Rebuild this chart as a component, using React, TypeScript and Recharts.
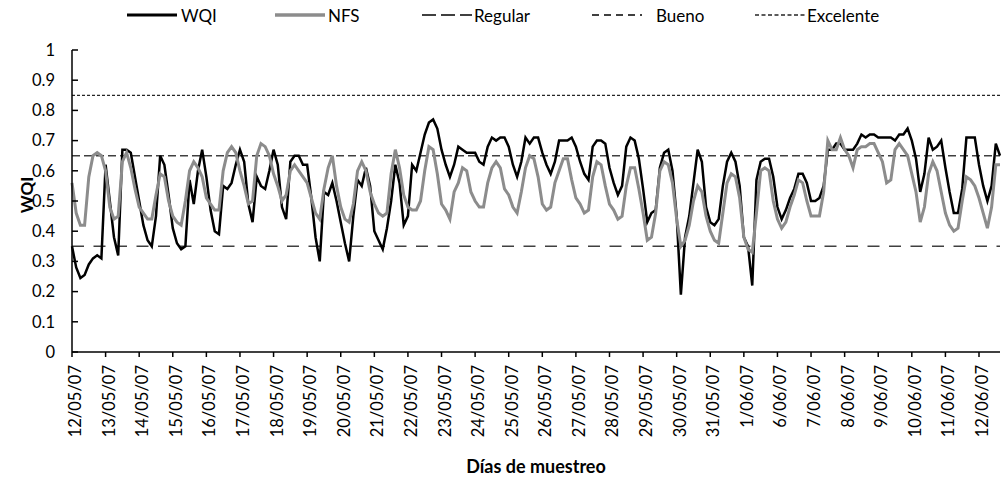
import { LineChart, Line, XAxis, YAxis, ReferenceLine, Label } from 'recharts';

const dayLabels = [
  '12/05/07', '13/05/07', '14/05/07', '15/05/07', '16/05/07', '17/05/07', '18/05/07',
  '19/05/07', '20/05/07', '21/05/07', '22/05/07', '23/05/07', '24/05/07', '25/05/07',
  '26/05/07', '27/05/07', '28/05/07', '29/05/07', '30/05/07', '31/05/07', '1/06/07',
  '6/06/07', '7/06/07', '8/06/07', '9/06/07', '10/06/07', '11/06/07', '12/06/07',
];

// readings every 3 h, one row per sampling day
const wqi = [
  0.35, 0.28, 0.245, 0.255, 0.29, 0.31, 0.32, 0.31,
  0.62, 0.5, 0.38, 0.32, 0.67, 0.67, 0.66, 0.58,
  0.5, 0.42, 0.37, 0.35, 0.45, 0.65, 0.62, 0.52,
  0.41, 0.36, 0.34, 0.35, 0.57, 0.49, 0.6, 0.67,
  0.58, 0.47, 0.4, 0.39, 0.55, 0.54, 0.56, 0.62,
  0.67, 0.63, 0.49, 0.43, 0.58, 0.55, 0.54, 0.6,
  0.67, 0.62, 0.48, 0.44, 0.63, 0.65, 0.65, 0.62,
  0.62, 0.51, 0.38, 0.3, 0.53, 0.52, 0.56, 0.5,
  0.43, 0.36, 0.3, 0.45, 0.57, 0.55, 0.61, 0.55,
  0.4, 0.37, 0.34, 0.41, 0.5, 0.62, 0.56, 0.42,
  0.45, 0.62, 0.6, 0.66, 0.72, 0.76, 0.77, 0.74,
  0.67, 0.62, 0.58, 0.62, 0.68, 0.67, 0.66, 0.66,
  0.66, 0.63, 0.62, 0.68, 0.71, 0.7, 0.71, 0.71,
  0.68, 0.62, 0.58, 0.63, 0.71, 0.69, 0.71, 0.71,
  0.66, 0.62, 0.59, 0.63, 0.7, 0.7, 0.7, 0.71,
  0.68, 0.63, 0.59, 0.57, 0.68, 0.7, 0.7, 0.69,
  0.61, 0.56, 0.52, 0.55, 0.68, 0.71, 0.7, 0.64,
  0.54, 0.43, 0.46, 0.47, 0.61, 0.66, 0.67, 0.6,
  0.45, 0.19, 0.38, 0.45, 0.56, 0.67, 0.63, 0.48,
  0.43, 0.42, 0.44, 0.55, 0.63, 0.66, 0.63, 0.55,
  0.38, 0.35, 0.22, 0.57, 0.63, 0.64, 0.64, 0.58,
  0.48, 0.44, 0.47, 0.51, 0.54, 0.59, 0.59, 0.56,
  0.5, 0.5, 0.51, 0.55, 0.67, 0.67, 0.69, 0.69,
  0.67, 0.67, 0.67, 0.69, 0.72, 0.71, 0.72, 0.72,
  0.71, 0.71, 0.71, 0.71, 0.7, 0.72, 0.72, 0.74,
  0.7, 0.64, 0.53, 0.59, 0.71, 0.67, 0.68, 0.7,
  0.61, 0.53, 0.46, 0.46, 0.54, 0.71, 0.71, 0.71,
  0.62, 0.55, 0.5, 0.55, 0.69, 0.65,
];

const nfs = [
  0.56, 0.46, 0.42, 0.42, 0.58, 0.65, 0.66, 0.65,
  0.6, 0.48, 0.44, 0.45, 0.63, 0.66, 0.61, 0.54,
  0.48, 0.46, 0.44, 0.44, 0.52, 0.59, 0.58, 0.5,
  0.45, 0.43, 0.42, 0.5, 0.6, 0.63, 0.61, 0.58,
  0.51, 0.49, 0.47, 0.47, 0.6, 0.66, 0.68, 0.66,
  0.6, 0.55, 0.49, 0.5, 0.65, 0.69, 0.68, 0.65,
  0.59, 0.55, 0.5, 0.52, 0.6, 0.62, 0.6, 0.58,
  0.56, 0.51, 0.46, 0.44, 0.54, 0.61, 0.65, 0.55,
  0.48, 0.44, 0.43, 0.49, 0.6, 0.63, 0.6, 0.53,
  0.49, 0.46, 0.45, 0.46, 0.59, 0.67, 0.61, 0.52,
  0.48, 0.47, 0.47, 0.5, 0.6, 0.68, 0.67, 0.59,
  0.49, 0.47, 0.44, 0.53, 0.56, 0.61, 0.6, 0.53,
  0.5, 0.48, 0.48, 0.56, 0.61, 0.63, 0.61, 0.54,
  0.52, 0.48, 0.46, 0.53, 0.61, 0.65, 0.64, 0.58,
  0.49, 0.47, 0.48, 0.56, 0.6, 0.64, 0.64, 0.57,
  0.51, 0.49, 0.46, 0.47, 0.58, 0.63, 0.62, 0.55,
  0.49, 0.47, 0.44, 0.45, 0.55, 0.61, 0.61, 0.54,
  0.46, 0.37, 0.38, 0.46, 0.6, 0.63, 0.62, 0.56,
  0.44, 0.35, 0.37, 0.42, 0.5, 0.55, 0.53, 0.45,
  0.4, 0.37, 0.36, 0.46, 0.56, 0.59, 0.58, 0.51,
  0.38, 0.34, 0.33, 0.46, 0.6, 0.61, 0.6, 0.5,
  0.44, 0.41, 0.43, 0.48, 0.52, 0.57, 0.56, 0.5,
  0.45, 0.45, 0.45, 0.53, 0.7, 0.67, 0.67, 0.71,
  0.67, 0.65, 0.61, 0.67, 0.68, 0.68, 0.69, 0.69,
  0.66, 0.63, 0.56, 0.57, 0.67, 0.69, 0.67, 0.65,
  0.59, 0.53, 0.43, 0.48, 0.59, 0.63, 0.6, 0.53,
  0.46, 0.42, 0.4, 0.41, 0.5, 0.58, 0.57, 0.55,
  0.51, 0.46, 0.41, 0.48, 0.62, 0.62,
];

const seriesNames = ['WQI', 'NFS'];
const thresholdNames = ['Regular', 'Bueno', 'Excelente'];
const thresholdValues = [0.35, 0.65, 0.85];
const yTicks = [0, 0.1, 0.2, 0.3, 0.4, 0.5, 0.6, 0.7, 0.8, 0.9, 1];

const PER_DAY = 8;
const FONT = 'Lato, "Noto Sans", sans-serif';

const rows = wqi.map((v, i) => ({ i, wqi: v, nfs: nfs[i] }));
const dayTicks = dayLabels.map((_, d) => d * PER_DAY);

function DayTick({ x, y, payload }: any) {
  return (
    <text
      x={x}
      y={y}
      dy={9}
      textAnchor="end"
      transform={`rotate(-90, ${x}, ${y})`}
      fill="#000"
      fontSize={16.5}
      fontFamily={FONT}
    >
      {dayLabels[Math.round(payload.value / PER_DAY)]}
    </text>
  );
}

function YTitle({ viewBox }: any) {
  const cx = viewBox.x + 27;
  const cy = viewBox.y + viewBox.height / 2 - 6;
  return (
    <text
      x={cx}
      y={cy}
      dy="0.35em"
      textAnchor="middle"
      transform={`rotate(-90, ${cx}, ${cy})`}
      fontWeight={700}
      fontSize={17}
      fontFamily={FONT}
      fill="#000"
    >
      WQI
    </text>
  );
}

function XTitle({ viewBox }: any) {
  return (
    <text
      x={viewBox.x + viewBox.width / 2}
      y={viewBox.y + viewBox.height - 9}
      textAnchor="middle"
      fontWeight={700}
      fontSize={18}
      fontFamily={FONT}
      fill="#000"
    >
      Días de muestreo
    </text>
  );
}

// legend drawn as an overlay, like the spreadsheet original
const legendItems = [
  { name: seriesNames[0], left: 127, stroke: '#000', width: 3, dash: undefined as string | undefined, gap: 4 },
  { name: seriesNames[1], left: 275, stroke: '#8c8c8c', width: 3.5, dash: undefined, gap: 3 },
  { name: thresholdNames[0], left: 422, stroke: '#404040', width: 2, dash: '14 5', gap: 2 },
  { name: thresholdNames[1], left: 592, stroke: '#404040', width: 2, dash: '7 5', gap: 14 },
  { name: thresholdNames[2], left: 755, stroke: '#262626', width: 1.5, dash: '4 2.5', gap: 2 },
];

export default function App() {
  return (
    <div
      style={{
        position: 'absolute',
        left: 0,
        top: 0,
        width: 1002,
        height: 482,
        background: '#fff',
        fontFamily: FONT,
      }}
    >
      {legendItems.map(item => (
        <div
          key={item.name}
          style={{
            position: 'absolute',
            top: 5,
            left: item.left,
            height: 20,
            display: 'flex',
            alignItems: 'center',
            fontSize: 17,
            color: '#000',
            whiteSpace: 'nowrap',
          }}
        >
          <svg width={50} height={10}>
            <line
              x1={0}
              x2={50}
              y1={5}
              y2={5}
              stroke={item.stroke}
              strokeWidth={item.width}
              strokeDasharray={item.dash}
            />
          </svg>
          <span style={{ marginLeft: item.gap }}>{item.name}</span>
        </div>
      ))}

      <LineChart width={1002} height={482} data={rows} margin={{ top: 50, right: 2, left: 0, bottom: 0 }}>
        <XAxis
          type="number"
          dataKey="i"
          domain={[0, wqi.length - 1]}
          ticks={dayTicks}
          interval={0}
          height={130}
          tickSize={5}
          tickMargin={8}
          tick={<DayTick />}
          axisLine={{ stroke: '#000', strokeWidth: 1.5 }}
          tickLine={{ stroke: '#000', strokeWidth: 1.5 }}
        >
          <Label content={<XTitle />} />
        </XAxis>

        <YAxis
          type="number"
          domain={[0, 1]}
          ticks={yTicks}
          interval={0}
          width={72}
          tickSize={-6}
          tickMargin={23}
          tick={{ fill: '#000', fontSize: 16.5, fontFamily: FONT }}
          tickFormatter={v => String(v)}
          axisLine={{ stroke: '#000', strokeWidth: 1.5 }}
          tickLine={{ stroke: '#000', strokeWidth: 1.5 }}
        >
          <Label content={<YTitle />} />
        </YAxis>

        {/* quality thresholds */}
        <ReferenceLine y={thresholdValues[0]} stroke="#404040" strokeWidth={1.5} strokeDasharray="12 9.5" />
        <ReferenceLine y={thresholdValues[1]} stroke="#404040" strokeWidth={1.5} strokeDasharray="8 4" />
        <ReferenceLine y={thresholdValues[2]} stroke="#262626" strokeWidth={1.2} strokeDasharray="3 2" />

        <Line
          type="linear"
          dataKey="wqi"
          name={seriesNames[0]}
          stroke="#000"
          strokeWidth={2.5}
          dot={false}
          activeDot={false}
          isAnimationActive={false}
        />
        <Line
          type="linear"
          dataKey="nfs"
          name={seriesNames[1]}
          stroke="#8c8c8c"
          strokeWidth={3}
          dot={false}
          activeDot={false}
          isAnimationActive={false}
        />
      </LineChart>
    </div>
  );
}
